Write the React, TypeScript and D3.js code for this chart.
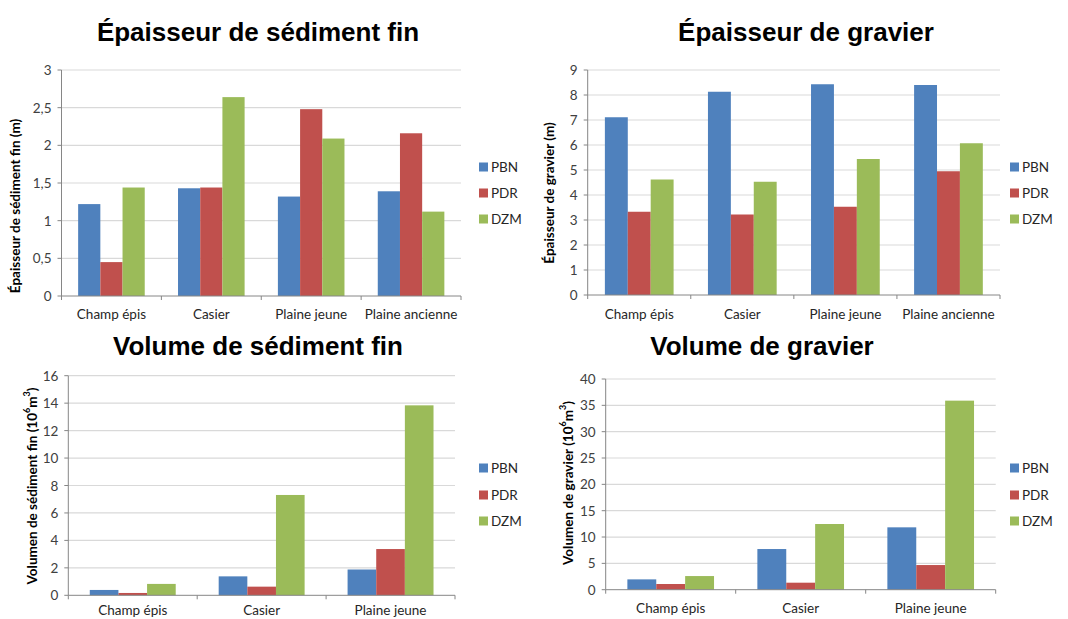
import React from "react";
import * as d3 from "d3";

// ---------- data ----------
const categoriesEpaisseur = ["Champ épis", "Casier", "Plaine jeune", "Plaine ancienne"];
const categoriesVolume = ["Champ épis", "Casier", "Plaine jeune"];
const seriesNames = ["PBN", "PDR", "DZM"];
const seriesColors = ["#4F81BD", "#C0504D", "#9BBB59"];

const epaisseurSedimentPBN = [1.22, 1.43, 1.32, 1.39];
const epaisseurSedimentPDR = [0.45, 1.44, 2.48, 2.16];
const epaisseurSedimentDZM = [1.44, 2.64, 2.09, 1.12];
const epaisseurSedimentTicks = [0, 0.5, 1, 1.5, 2, 2.5, 3];

const epaisseurGravierPBN = [7.11, 8.13, 8.43, 8.4];
const epaisseurGravierPDR = [3.33, 3.22, 3.53, 4.95];
const epaisseurGravierDZM = [4.62, 4.53, 5.44, 6.07];
const epaisseurGravierTicks = [0, 1, 2, 3, 4, 5, 6, 7, 8, 9];

const volumeSedimentPBN = [0.39, 1.38, 1.88];
const volumeSedimentPDR = [0.17, 0.63, 3.37];
const volumeSedimentDZM = [0.83, 7.31, 13.84];
const volumeSedimentTicks = [0, 2, 4, 6, 8, 10, 12, 14, 16];

const volumeGravierPBN = [1.96, 7.72, 11.84];
const volumeGravierPDR = [1.08, 1.33, 4.68];
const volumeGravierDZM = [2.59, 12.47, 35.89];
const volumeGravierTicks = [0, 5, 10, 15, 20, 25, 30, 35, 40];

const TICK_FONT = "Lato, 'Open Sans', sans-serif";
const TITLE_FONT = "'Liberation Sans', Arial, sans-serif";

type PanelProps = {
  title: string;
  titleX: number;
  titleY: number;
  x0: number;
  x1: number;
  yTop: number;
  yZero: number;
  categories: string[];
  series: number[][];
  ticks: number[];
  yTitle: React.ReactNode;
  yTitleX: number;
  yTitleY: number;
  xLabelY: number;
  legendX: number;
  legendY: number[];
};

function fmt(v: number) {
  return String(v).replace(".", ",");
}

function Panel(p: PanelProps) {
  const x = d3.scaleBand<string>().domain(p.categories).range([p.x0, p.x1]).padding(0);
  const inner = d3
    .scaleBand<string>()
    .domain(seriesNames)
    .range([0, x.bandwidth()])
    .paddingInner(0)
    .paddingOuter(0.75);
  const y = d3
    .scaleLinear()
    .domain([0, p.ticks[p.ticks.length - 1]])
    .range([p.yZero, p.yTop]);
  const boundaries = p.categories.map((c) => x(c)!).concat([p.x1]);
  return (
    <g>
      <text
        x={p.titleX}
        y={p.titleY}
        textAnchor="middle"
        fontFamily={TITLE_FONT}
        fontWeight="bold"
        fontSize={26}
        fill="#000"
      >
        {p.title}
      </text>
      {p.ticks.map((t) => (
        <g key={t}>
          {t > 0 && (
            <line x1={p.x0} x2={p.x1} y1={y(t)} y2={y(t)} stroke="#D9D9D9" strokeWidth={1.2} />
          )}
          <line x1={p.x0 - 4} x2={p.x0} y1={y(t)} y2={y(t)} stroke="#868686" />
          <text
            x={p.x0 - 10}
            y={y(t)}
            textAnchor="end"
            dominantBaseline="central"
            fontFamily={TICK_FONT}
            fontSize={13.5}
            fill="#404040"
          >
            {fmt(t)}
          </text>
        </g>
      ))}
      {p.categories.map((c, ci) =>
        seriesNames.map((s, si) => {
          const v = p.series[si][ci];
          return (
            <rect
              key={c + s}
              x={x(c)! + inner(s)!}
              y={y(v)}
              width={inner.bandwidth()}
              height={p.yZero - y(v)}
              fill={seriesColors[si]}
            />
          );
        })
      )}
      <line x1={p.x0} x2={p.x0} y1={p.yTop} y2={p.yZero} stroke="#868686" />
      <line x1={p.x0} x2={p.x1} y1={p.yZero} y2={p.yZero} stroke="#868686" />
      {boundaries.map((b, i) => (
        <line key={i} x1={b} x2={b} y1={p.yZero} y2={p.yZero + 4} stroke="#868686" />
      ))}
      {p.categories.map((c) => (
        <text
          key={c}
          x={x(c)! + x.bandwidth() / 2}
          y={p.xLabelY}
          textAnchor="middle"
          dominantBaseline="central"
          fontFamily={TICK_FONT}
          fontSize={13.5}
          fill="#262626"
        >
          {c}
        </text>
      ))}
      <text
        transform={`translate(${p.yTitleX},${p.yTitleY}) rotate(-90)`}
        textAnchor="middle"
        dominantBaseline="central"
        fontFamily={TICK_FONT}
        fontWeight="bold"
        fontSize={13.5}
        fill="#000"
      >
        {p.yTitle}
      </text>
      {seriesNames.map((s, si) => (
        <g key={s}>
          <rect x={p.legendX} y={p.legendY[si] - 4.5} width={9} height={9} fill={seriesColors[si]} />
          <text
            x={p.legendX + 12}
            y={p.legendY[si]}
            dominantBaseline="central"
            fontFamily={TICK_FONT}
            fontSize={13.5}
            fill="#262626"
          >
            {s}
          </text>
        </g>
      ))}
    </g>
  );
}

const sup = (t: string) => (
  <tspan baselineShift="super" fontSize={9}>
    {t}
  </tspan>
);

export default function App() {
  return (
    <svg
      width={1068}
      height={619}
      style={{ position: "absolute", left: 0, top: 0, background: "#fff" }}
    >
      <rect width={1068} height={619} fill="#fff" />
      <Panel
        title="Épaisseur de sédiment fin"
        titleX={258}
        titleY={41}
        x0={61.5}
        x1={461}
        yTop={70}
        yZero={296}
        categories={categoriesEpaisseur}
        series={[epaisseurSedimentPBN, epaisseurSedimentPDR, epaisseurSedimentDZM]}
        ticks={epaisseurSedimentTicks}
        yTitle="Épaisseur de sédiment fin (m)"
        yTitleX={15}
        yTitleY={206}
        xLabelY={314}
        legendX={479}
        legendY={[167, 193, 219]}
      />
      <Panel
        title="Épaisseur de gravier"
        titleX={806}
        titleY={41}
        x0={587.7}
        x1={1000}
        yTop={70}
        yZero={295}
        categories={categoriesEpaisseur}
        series={[epaisseurGravierPBN, epaisseurGravierPDR, epaisseurGravierDZM]}
        ticks={epaisseurGravierTicks}
        yTitle="Épaisseur de gravier (m)"
        yTitleX={549}
        yTitleY={193}
        xLabelY={314}
        legendX={1010}
        legendY={[167, 193, 219]}
      />
      <Panel
        title="Volume de sédiment fin"
        titleX={258}
        titleY={355}
        x0={68.3}
        x1={455}
        yTop={375.7}
        yZero={595.3}
        categories={categoriesVolume}
        series={[volumeSedimentPBN, volumeSedimentPDR, volumeSedimentDZM]}
        ticks={volumeSedimentTicks}
        yTitle={
          <>
            Volumen de sédiment fin (10{sup("6")}m{sup("3")})
          </>
        }
        yTitleX={32}
        yTitleY={486}
        xLabelY={610}
        legendX={479}
        legendY={[468, 495, 521]}
      />
      <Panel
        title="Volume de gravier"
        titleX={762}
        titleY={355}
        x0={605.7}
        x1={995.7}
        yTop={379}
        yZero={589.7}
        categories={categoriesVolume}
        series={[volumeGravierPBN, volumeGravierPDR, volumeGravierDZM]}
        ticks={volumeGravierTicks}
        yTitle={
          <>
            Volumen de gravier (10{sup("6")}m{sup("3")})
          </>
        }
        yTitleX={568}
        yTitleY={483}
        xLabelY={608}
        legendX={1010}
        legendY={[468, 495, 521]}
      />
    </svg>
  );
}
